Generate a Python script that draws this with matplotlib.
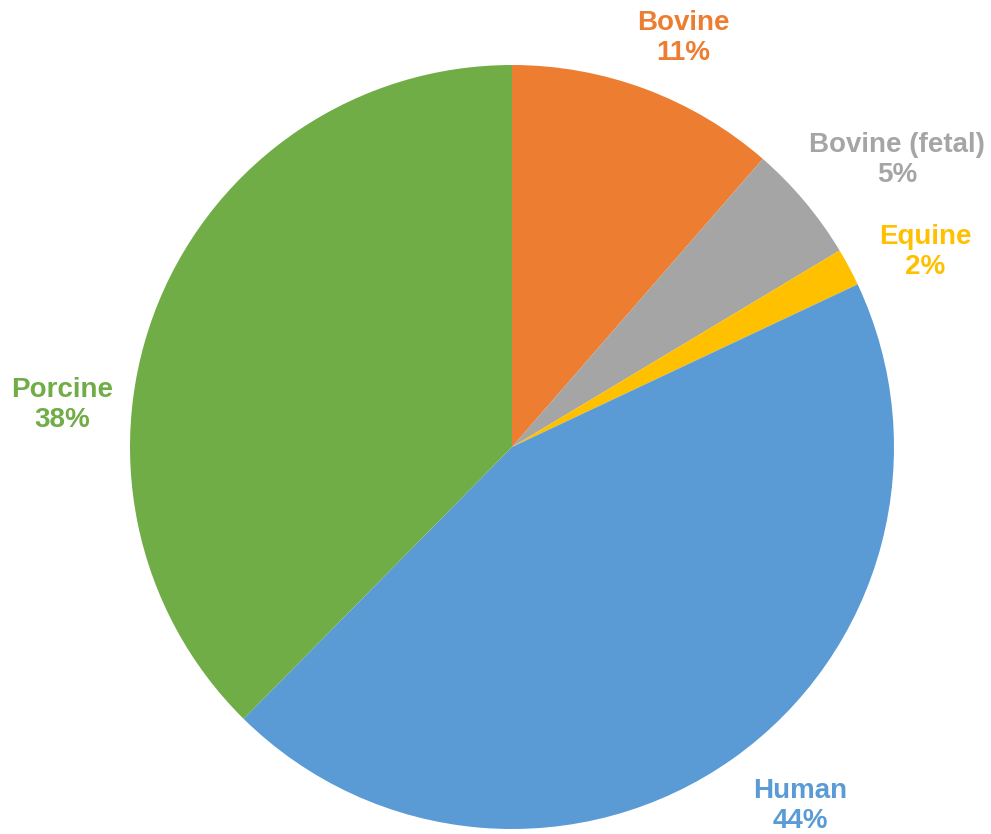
import matplotlib.pyplot as plt

# Pie data (clockwise from 12 o'clock), shares in percent
categories = ["Bovine", "Bovine (fetal)", "Equine", "Human", "Porcine"]
shares = [11.4, 5.0, 1.6, 44.4, 37.6]
colors = ["#ED7D31", "#A5A5A5", "#FFC000", "#5B9BD5", "#70AD47"]

# label anchor points, in pie-radius units (layout only)
label_xy = [(0.448, 1.071), (1.008, 0.751), (1.081, 0.511),
            (0.754, -0.940), (-1.178, 0.110)]

plt.rcParams['font.family'] = ['Liberation Sans', 'DejaVu Sans']

fig = plt.figure(figsize=(9.91, 8.34), dpi=100)
ax = fig.add_axes([0, 0, 1, 1])

ax.pie(shares, colors=colors, startangle=90, counterclock=False,
       radius=1.0, wedgeprops=dict(linewidth=0))

total = sum(shares)
for name, val, col, (x, y) in zip(categories, shares, colors, label_xy):
    pct = round(100 * val / total)
    ax.text(x, y, f"{name}\n{pct}%", color=col, fontsize=20,
            fontweight='bold', ha='center', va='center', linespacing=1.2)

# map pie centre to (512, 447) px with radius 382 px
ax.set_xlim(-512 / 382, (991 - 512) / 382)
ax.set_ylim(-(834 - 447) / 382, 447 / 382)
ax.set_aspect('auto')
ax.axis('off')

plt.savefig("out.png", dpi=100)
